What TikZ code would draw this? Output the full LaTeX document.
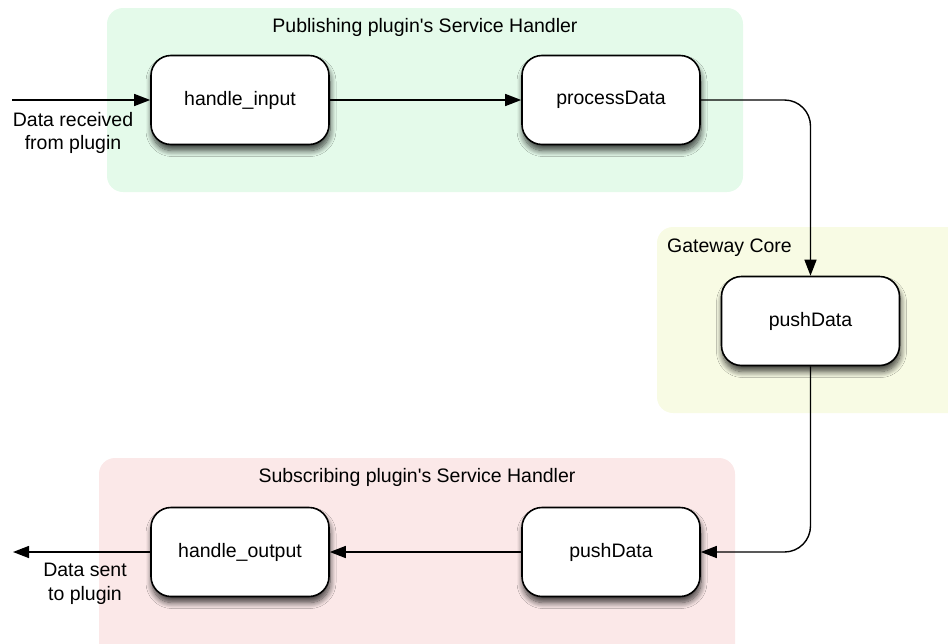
\documentclass[tikz,border=0pt]{standalone}
\usepackage{fontspec}
\setmainfont{Liberation Sans}
\usetikzlibrary{arrows.meta,shadows,shadows.blur}
\definecolor{pubbg}{RGB}{228,250,234}
\definecolor{corebg}{RGB}{248,251,228}
\definecolor{subbg}{RGB}{251,232,232}
\tikzset{
  region/.style={rounded corners=16pt, draw=none},
  fn/.style={draw=black, line width=1.6pt, fill=white, rounded corners=20pt,
    minimum width=178pt, minimum height=89pt, inner sep=0pt,
    blur shadow={shadow xshift=1pt, shadow yshift=-6pt, shadow blur radius=6pt,
      shadow blur steps=10, shadow opacity=75}},
  conn/.style={line width=1.4pt, -{Triangle[length=16pt,width=12pt]}},
  lbl/.style={align=center, inner sep=0pt},
  every node/.style={font=\fontsize{19.5}{23.5}\selectfont}
}
\begin{document}
\begin{tikzpicture}[x=1pt,y=-1pt]
\useasboundingbox (0,0) rectangle (948,643);
% regions
\fill[pubbg, region] (107,8) rectangle (743,192);
\fill[corebg, region] (657,227) rectangle (972,413);
\fill[subbg, region] (99,458) rectangle (735,665);
\node[lbl] (tpub) at (425,27) {Publishing plugin\textquotesingle s Service Handler};
\node[lbl, anchor=west] (tcore) at (667,248) {Gateway Core};
\node[lbl] (tsub) at (417,477) {Subscribing plugin\textquotesingle s Service Handler};
% function boxes
\node[fn] (hi) at (240,100) {handle\_input};
\node[fn] (pd) at (611,100) {processData};
\node[fn] (core) at (810.5,321) {pushData};
\node[fn] (pd2) at (611,552) {pushData};
\node[fn] (ho) at (240,552) {handle\_output};
% free ends
\coordinate (inS) at (12,100);
\coordinate (outE) at (13,552);
% connectors
\draw[conn] (inS) -- (hi.west);
\draw[conn] (hi) -- (pd);
\draw[conn, rounded corners=26pt] (pd.east) -| (core.north);
\draw[conn, rounded corners=26pt] (core.south) |- (pd2.east);
\draw[conn] (pd2) -- (ho);
\draw[conn] (ho.west) -- (outE);
% labels
\node[lbl] (lin) at (73,133) {Data received\\from plugin};
\node[lbl] (lout) at (85,584) {Data sent\\to plugin};
\end{tikzpicture}
\end{document}
